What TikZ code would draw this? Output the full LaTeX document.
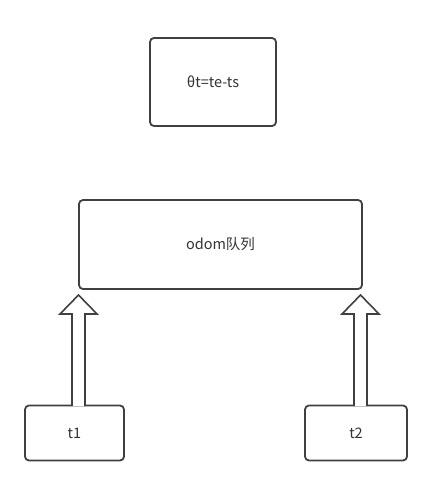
\documentclass[tikz,border=0pt]{standalone}
\usepackage{fontspec}
\setmainfont{Noto Sans CJK SC}
\usetikzlibrary{calc}

% hollow block arrow from #1 up to #2
\newcommand{\hollowarrow}[2]{%
  \draw[hollow] ($(#1)+(-6.5,0)$) -- ($(#2)+(-6.5,19)$) -- ($(#2)+(-18.5,19)$)
    -- (#2) -- ($(#2)+(18.5,19)$) -- ($(#2)+(6.5,19)$) -- ($(#1)+(6.5,0)$);}

\begin{document}
\begin{tikzpicture}[
    x=1pt, y=-1pt,
    every node/.style={font=\fontsize{14.5}{17}\selectfont, text=black!80},
    box/.style={draw=black!75, line width=1.8pt, rounded corners=4pt, fill=white},
    hollow/.style={draw=black!75, line width=1.6pt, fill=white, line join=miter},
]
\useasboundingbox (0,0) rectangle (436,486);
% boxes
\node[box, minimum width=126pt, minimum height=88pt] (dt)   at (213,82)    {θt=te-ts};
\node[box, minimum width=283pt, minimum height=89pt] (odom) at (220.5,244.5) {odom队列};
\node[box, minimum width=99pt,  minimum height=55pt] (t1)   at (74.5,433)  {t1};
\node[box, minimum width=102pt, minimum height=55pt] (t2)   at (356,433)   {t2};
% arrows into the queue
\coordinate (a1s) at (78.5,406);
\coordinate (a1e) at (78.5,295);
\coordinate (a2s) at (360.5,406);
\coordinate (a2e) at (360.5,295);
\hollowarrow{a1s}{a1e}
\hollowarrow{a2s}{a2e}
\end{tikzpicture}
\end{document}
